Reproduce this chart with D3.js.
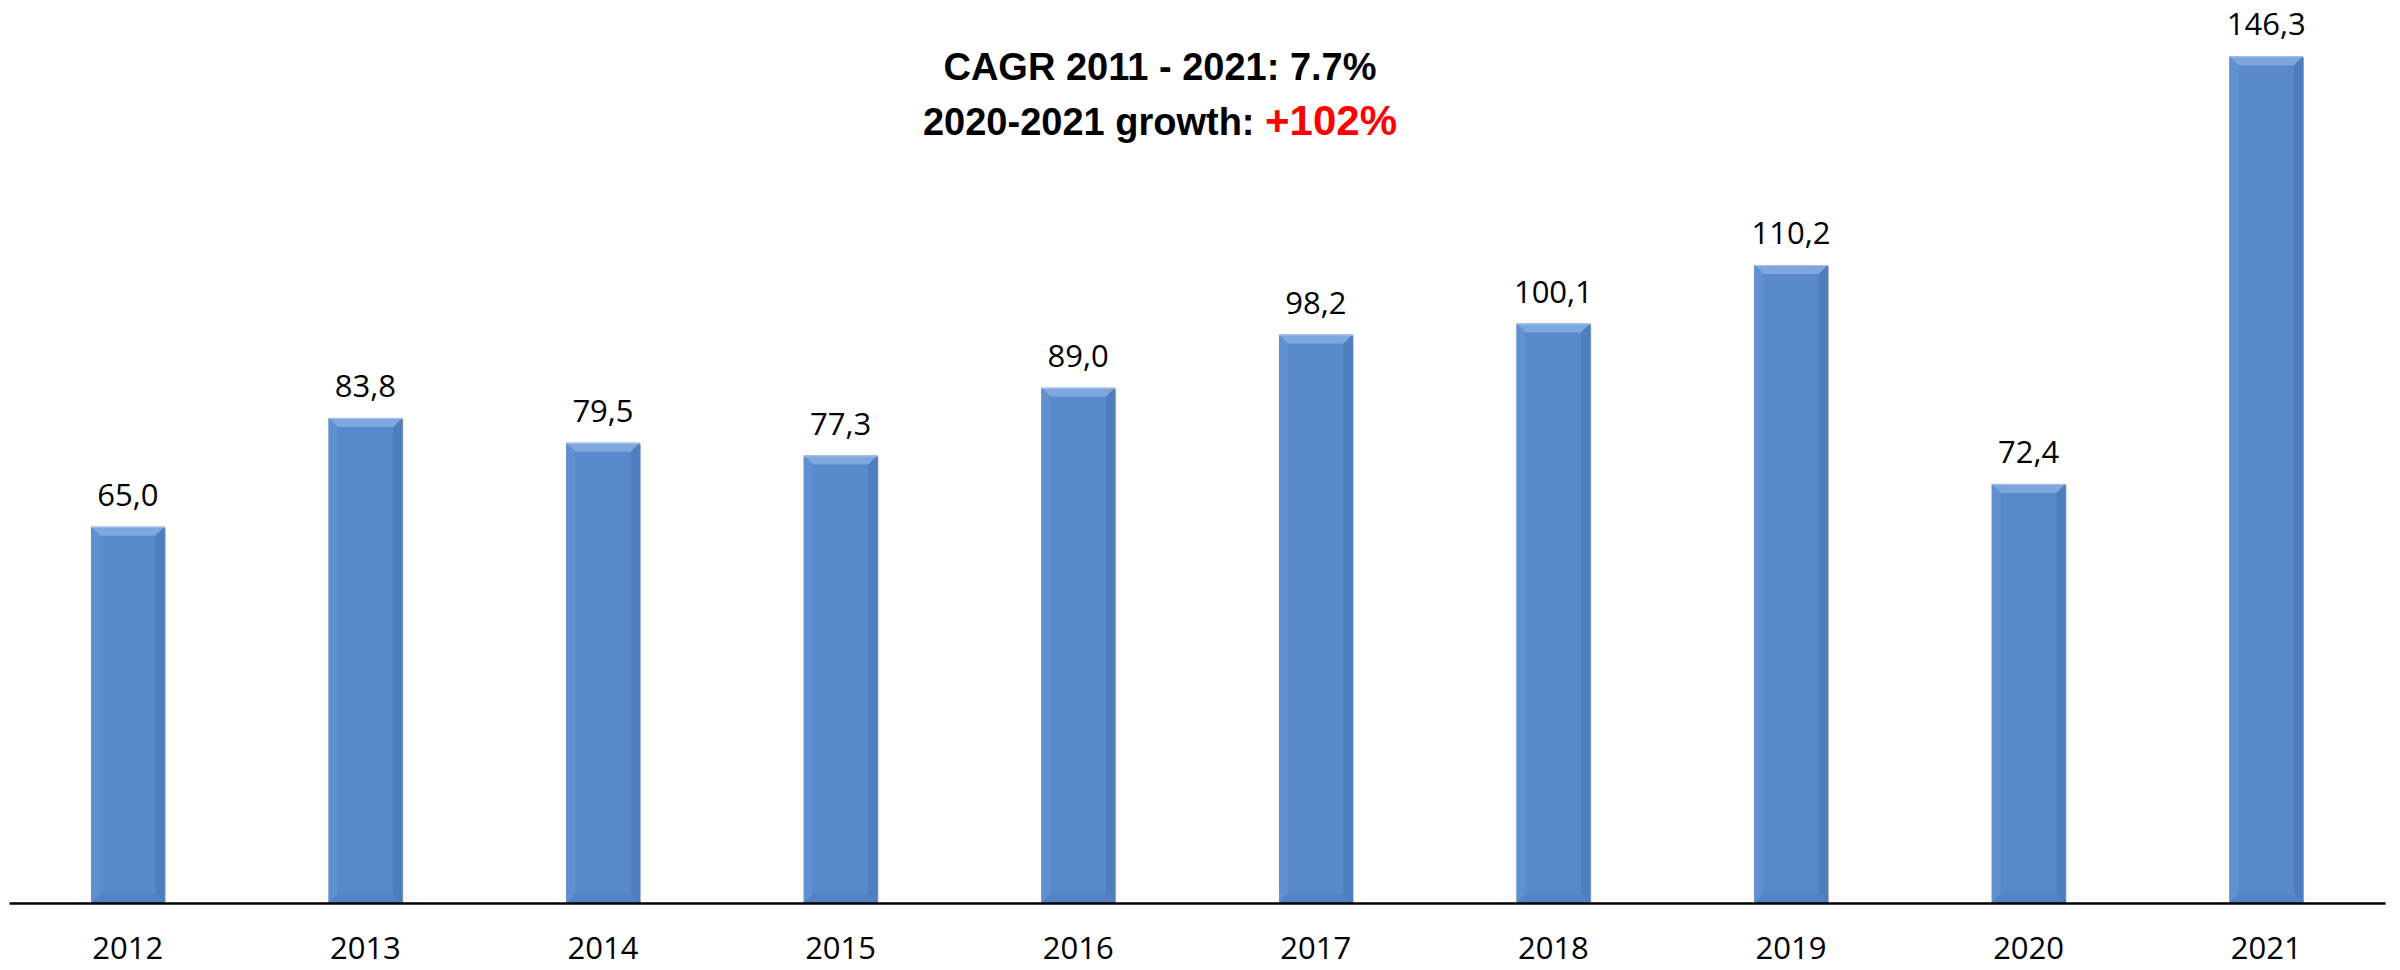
<!DOCTYPE html>
<html><head><meta charset="utf-8">
<script src="https://cdn.jsdelivr.net/npm/d3@7"></script>
<style>body{margin:0;background:#fff}svg{display:block}</style>
</head><body>
<svg id="chart" width="2400" height="970"></svg>
<script>
const years = ["2012","2013","2014","2015","2016","2017","2018","2019","2020","2021"];
const values = [65.0, 83.8, 79.5, 77.3, 89.0, 98.2, 100.1, 110.2, 72.4, 146.3];
const titleLine1 = "CAGR 2011 - 2021: 7.7%";
const titleLine2a = "2020-2021 growth: ";
const titleLine2b = "+102%";

const svg = d3.select("#chart");
const x = d3.scaleBand().domain(years).range([9, 2385]).paddingInner(0).paddingOuter(0);
const y = d3.scaleLinear().domain([0, 156]).range([903, 0]);
const bw = x.bandwidth() * 0.31;
const fmt = v => d3.format(".1f")(v).replace(".", ",");

const g = svg.append("g");
const bars = g.selectAll("g.bar").data(years.map((yr, i) => ({yr, v: values[i]}))).join("g").attr("class","bar");
const bev = 9;
bars.each(function(d){
  const sel = d3.select(this);
  const x0 = x(d.yr) + (x.bandwidth() - bw) / 2, x1 = x0 + bw;
  const y0 = y(d.v), y1 = y(0);
  sel.append("rect").attr("x", x0 + 1).attr("y", y0 + 1).attr("width", bw).attr("height", y1 - y0 - 1).attr("fill", "#9aa5b5");
  sel.append("rect").attr("x", x0).attr("y", y0).attr("width", bw).attr("height", y1 - y0).attr("fill", "#5889cb");
  const poly = (pts, c) => sel.append("polygon").attr("points", pts.map(p => p.join(",")).join(" ")).attr("fill", c);
  poly([[x0,y0],[x1,y0],[x1-bev,y0+bev],[x0+bev,y0+bev]], "#7ea7de");
  poly([[x0,y0],[x0+bev,y0+bev],[x0+bev,y1-bev],[x0,y1]], "#6090d0");
  poly([[x1,y0],[x1,y1],[x1-bev,y1-bev],[x1-bev,y0+bev]], "#4e7ebd");
  poly([[x0,y1],[x1,y1],[x1-bev,y1-bev],[x0+bev,y1-bev]], "#5282c2");
  sel.append("line").attr("x1", x0).attr("x2", x1).attr("y1", y0 + 0.5).attr("y2", y0 + 0.5).attr("stroke", "#a9c4ea").attr("stroke-width", 1);
});

bars.append("text")
  .attr("x", d => x(d.yr) + x.bandwidth() / 2)
  .attr("y", d => y(d.v) - 21)
  .attr("text-anchor", "middle")
  .attr("font-family", "'Open Sans', sans-serif")
  .attr("font-size", 31)
  .attr("fill", "#000")
  .text(d => fmt(d.v));

const axis = d3.axisBottom(x).tickSize(0).tickPadding(34);
const ax = svg.append("g").attr("transform", `translate(0,${y(0)})`).call(axis);
ax.select(".domain").attr("stroke", "#000").attr("stroke-width", 2.5);
ax.selectAll("text").attr("font-family", "'Open Sans', sans-serif").attr("font-size", 31).attr("fill", "#000");

const t = svg.append("text").attr("text-anchor", "middle")
  .attr("font-family", "'Liberation Sans', Arial, sans-serif").attr("font-weight", "bold").attr("font-size", 38);
t.append("tspan").attr("x", 1160).attr("y", 80).text(titleLine1);
const t2 = t.append("tspan").attr("x", 1160).attr("y", 135);
t2.text(titleLine2a);
t.append("tspan").attr("fill", "#ff0000").attr("font-size", 42).text(titleLine2b);
</script>
</body></html>
